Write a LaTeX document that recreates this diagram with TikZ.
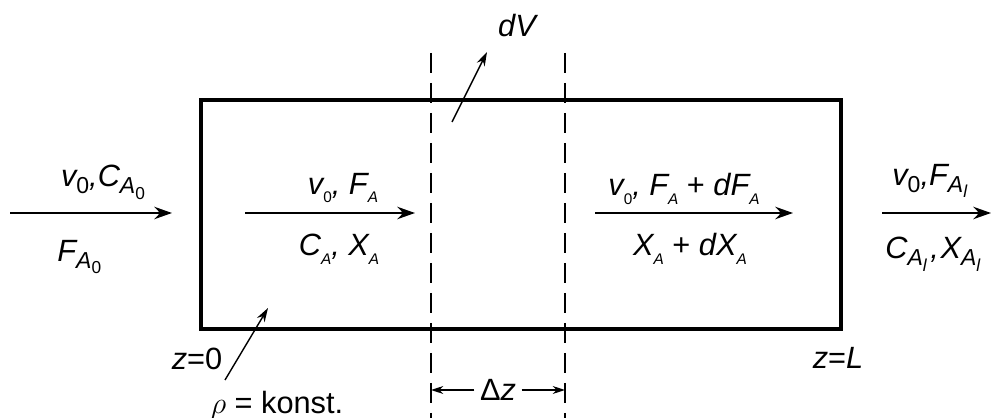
\documentclass[tikz,border=0pt]{standalone}
\usepackage{fontspec}
\setmainfont{Liberation Sans}
\usepackage{graphicx}
\usetikzlibrary{arrows.meta, positioning}

% subscripts: large (outer streams) and tiny (inside the tube)
\newcommand{\lo}[1]{\raisebox{-0.45ex}{\scalebox{0.75}{#1}}}
\newcommand{\tn}[1]{\raisebox{-0.55ex}{\scalebox{0.5}{#1}}}

\begin{document}
\begin{tikzpicture}[
    x=0.02cm, y=-0.02cm,
    >=Stealth,
    wall/.style={draw, line width=2pt},
    cut/.style={draw, line width=1.3pt, dash pattern=on 0.4cm off 0.2cm},
    flow/.style={->, line width=1.4pt, >={Stealth[length=10pt, width=7pt]}},
    pointer/.style={->, line width=0.8pt, >={Stealth[length=8pt, width=5pt]}},
    dim/.style={->, line width=0.9pt, >={Stealth[length=7pt, width=4.5pt]}},
    lbl/.style={font=\fontsize{17.5}{20}\selectfont\itshape, inner sep=0pt},
]
\useasboundingbox (0,0) rectangle (991,418);

% === Tube ===
\coordinate (tl) at (201,100);
\coordinate (br) at (841,329);
\draw[wall] (tl) rectangle (br);

% === Volume element boundaries ===
\coordinate (cut1top) at (431,53);
\coordinate (cut1bot) at (431,418);
\coordinate (cut2top) at (565,53);
\coordinate (cut2bot) at (565,418);
\draw[cut] (cut1top) -- (cut1bot);
\draw[cut] (cut2top) -- (cut2bot);

% === Flow arrows ===
\coordinate (feed0) at (10,213);
\coordinate (feed1) at (172,213);
\coordinate (in0) at (245,213);
\coordinate (in1) at (415,213);
\coordinate (out0) at (595,213);
\coordinate (out1) at (793,213);
\coordinate (exit0) at (882,213);
\coordinate (exit1) at (991,213);
\draw[flow] (feed0) -- (feed1);
\draw[flow] (in0) -- (in1);
\draw[flow] (out0) -- (out1);
\draw[flow] (exit0) -- (exit1);

% === Stream labels ===
\node (feedtop) [lbl] at (103,182) {v\lo{\upshape 0},C\lo{A\lo{\upshape 0}}};
\node (feedbot) [lbl, anchor=west] at (57,257) {F\lo{A\lo{\upshape 0}}};
\node (intop) [lbl] at (343,188) {v\tn{\upshape 0}, F\tn{A}};
\node (inbot) [lbl] at (339,249) {C\tn{A}, X\tn{A}};
\node (outtop) [lbl] at (684,189) {v\tn{\upshape 0}, F\tn{A} \upshape+ \itshape dF\tn{A}};
\node (outbot) [lbl] at (690,249) {X\tn{A} \upshape+ \itshape dX\tn{A}};
\node (exittop) [lbl, anchor=west] at (892,181) {v\lo{\upshape 0},F\lo{A\lo{l}}};
\node (exitbot) [lbl, anchor=west] at (885,254) {C\lo{A\lo{l}}\kern2pt,\kern1pt X\lo{A\lo{l}}};

% === dV pointer ===
\coordinate (dvtail) at (452,122);
\coordinate (dvtip) at (487,52);
\node (dv) [lbl] at (517,26) {dV};
\draw[pointer] (dvtail) -- (dvtip);

% === Density pointer ===
\coordinate (rhotail) at (225,380);
\coordinate (rhotip) at (268,308);
\node (rho) [lbl, font=\fontsize{17.5}{20}\selectfont] at (277,405) {$\rho$ = konst.};
\draw[pointer] (rhotail) -- (rhotip);

% === Ends ===
\node (zin) [lbl] at (197,359) {z\upshape =0};
\node (zout) [lbl] at (838,358) {z\upshape =\itshape L};

% === Delta z ===
\node (dz) [lbl, font=\fontsize{17.5}{20}\selectfont] at (498,390) {Δ\textit{z}};
\draw[dim] ([xshift=-3pt]dz.west) -- (cut1bot |- dz);
\draw[dim] ([xshift=3pt]dz.east) -- (cut2bot |- dz);

\end{tikzpicture}
\end{document}
